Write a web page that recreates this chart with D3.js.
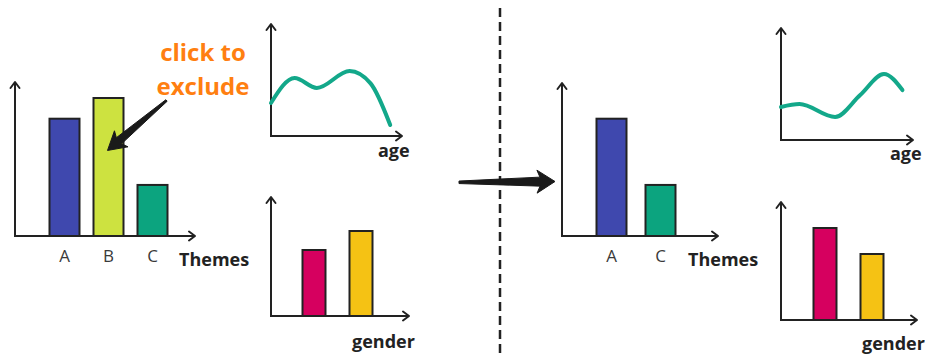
<!DOCTYPE html>
<html>
<head>
<meta charset="utf-8">
<script src="https://cdn.jsdelivr.net/npm/d3@7"></script>
<style>
  html, body { margin: 0; padding: 0; background: #fff; }
  svg { display: block; }
</style>
</head>
<body>
<svg id="chart" width="925" height="356"></svg>
<script>
// ---- Data: theme counts before / after excluding theme B ----
const themes = ["A", "B", "C"];
const themeValues = [85, 100, 37];
const themeColors = ["#3f48ae", "#cde240", "#0ca47f"];

const themesAfter = ["A", "C"];
const themeValuesAfter = [85, 37];
const themeColorsAfter = ["#3f48ae", "#0ca47f"];

// gender breakdown (two groups)
const genders = ["female", "male"];
const genderValues = [66, 85];
const genderValuesAfter = [92, 66];
const genderColors = ["#d6005f", "#f5c214"];

// age distribution curves
const ages = [0, 18, 35, 60, 76, 91];
const ageDensity = [29.5, 51.8, 42.9, 58.0, 47.0, 9.8];
const agesAfter = [0, 14, 41, 60, 78, 92];
const ageDensityAfter = [29.5, 32.1, 20.5, 40.2, 58.9, 44.6];

// ---- Drawing ----
const FONT = "'Open Sans', 'Noto Sans', sans-serif";
const ink = "#222";
const svg = d3.select("#chart");

// L-shaped axes with open arrowheads
function drawAxes(g, ox, oy, tipX, tipY) {
  g.append("path")
    .attr("d", `M${ox},${tipY}V${oy}H${tipX}`)
    .attr("fill", "none").attr("stroke", ink).attr("stroke-width", 2)
    .attr("stroke-linejoin", "miter");
  const heads = [
    `M${ox - 4.5},${tipY + 6}L${ox},${tipY}L${ox + 4.5},${tipY + 6}`,
    `M${tipX - 6},${oy - 4.5}L${tipX},${oy}L${tipX - 6},${oy + 4.5}`
  ];
  g.selectAll(null).data(heads).join("path")
    .attr("d", d => d)
    .attr("fill", "none").attr("stroke", ink).attr("stroke-width", 2)
    .attr("stroke-linecap", "round").attr("stroke-linejoin", "round");
}

function axisTitle(g, x, y, text) {
  g.append("text")
    .attr("x", x).attr("y", y)
    .attr("font-family", FONT).attr("font-weight", 700)
    .attr("font-size", 18).attr("fill", ink)
    .text(text);
}

function barPanel(p) {
  const g = svg.append("g");
  const pad = 1 - p.bw / p.step;
  const x = d3.scaleBand()
    .domain(p.cats)
    .range([p.firstBar, p.firstBar + p.step * (p.cats.length - pad)])
    .paddingInner(pad).paddingOuter(0).align(0);
  const y = d3.scaleLinear().domain([0, 100]).range([p.oy, p.oy - 100 * p.unit]);

  g.selectAll("rect").data(p.vals).join("rect")
    .attr("x", (d, i) => x(p.cats[i]))
    .attr("y", d => y(d))
    .attr("width", x.bandwidth())
    .attr("height", d => y(0) - y(d))
    .attr("fill", (d, i) => p.colors[i])
    .attr("stroke", ink).attr("stroke-width", 2);

  drawAxes(g, p.ox, p.oy, p.tipX, p.tipY);

  if (p.ticks) {
    const ax = g.append("g")
      .attr("transform", `translate(0,${p.oy})`)
      .call(d3.axisBottom(x).tickSize(0).tickPadding(14));
    ax.select(".domain").remove();
    ax.selectAll("text")
      .attr("font-family", FONT).attr("font-size", 17)
      .attr("fill", "#3a3a3a");
  }
  axisTitle(g, p.titleX, p.titleY, p.title);
  return { x, y };
}

function agePanel(p) {
  const g = svg.append("g");
  const x = d3.scaleLinear().domain([0, 100]).range([p.ox, p.tipX]);
  const y = d3.scaleLinear().domain([0, 100]).range([p.oy, p.tipY]);
  drawAxes(g, p.ox, p.oy, p.tipX, p.tipY);
  const line = d3.line()
    .x((d, i) => x(p.ages[i]))
    .y(d => y(d))
    .curve(d3.curveMonotoneX);
  g.append("path")
    .attr("d", line(p.vals))
    .attr("fill", "none").attr("stroke", "#13a88a")
    .attr("stroke-width", 4).attr("stroke-linecap", "round");
  axisTitle(g, p.titleX, p.titleY, "age");
}

// tapered arrow: thin tail widening into a swept-back head
function taperedArrow(tail, tip, o) {
  const dx = tip[0] - tail[0], dy = tip[1] - tail[1];
  const len = Math.hypot(dx, dy);
  const u = [dx / len, dy / len], n = [-u[1], u[0]];
  const at = (base, along, side) => [base[0] + u[0] * along + n[0] * side,
                                     base[1] + u[1] * along + n[1] * side];
  const pts = [
    at(tail, 0, o.tailW / 2),
    at(tip, -o.headLen, o.shaftW / 2),
    at(tip, -o.headLen - o.sweep, o.headW / 2),
    tip,
    at(tip, -o.headLen - o.sweep, -o.headW / 2),
    at(tip, -o.headLen, -o.shaftW / 2),
    at(tail, 0, -o.tailW / 2)
  ];
  svg.append("path")
    .attr("d", d3.line()(pts) + "Z")
    .attr("fill", "#1a1a1a").attr("stroke", "#1a1a1a")
    .attr("stroke-width", 1).attr("stroke-linejoin", "round");
}

// ---- left side: before exclusion ----
const main = barPanel({
  cats: themes, vals: themeValues, colors: themeColors,
  firstBar: 49.5, step: 44, bw: 30, unit: 1.38,
  ox: 15, oy: 236, tipX: 195, tipY: 82,
  ticks: true, title: "Themes", titleX: 179, titleY: 266
});

agePanel({ ages: ages, vals: ageDensity,
  ox: 271, oy: 136, tipX: 402, tipY: 24, titleX: 378, titleY: 157 });

barPanel({
  cats: genders, vals: genderValues, colors: genderColors,
  firstBar: 302.5, step: 47, bw: 23, unit: 1,
  ox: 271, oy: 316, tipX: 409, tipY: 197,
  ticks: false, title: "gender", titleX: 352, titleY: 348
});

// annotation
svg.append("text")
  .attr("font-family", FONT).attr("font-weight", 700)
  .attr("font-size", 24).attr("fill", "#ff7f11")
  .attr("text-anchor", "middle")
  .selectAll("tspan").data(["click to", "exclude"]).join("tspan")
  .attr("x", 203).attr("y", (d, i) => 61 + i * 34)
  .text(d => d);

const bx = main.x("B") + main.x.bandwidth() / 2 - 1;
taperedArrow([166.5, 100.5], [bx, main.y(62)],
  { tailW: 2, shaftW: 8, headLen: 15, sweep: 3, headW: 21 });

// ---- divider and transition arrow ----
svg.append("line")
  .attr("x1", 500).attr("x2", 500).attr("y1", 8).attr("y2", 356)
  .attr("stroke", "#222").attr("stroke-width", 2.5)
  .attr("stroke-dasharray", "9,5");

taperedArrow([459, 182.3], [555, 181.5],
  { tailW: 2.5, shaftW: 9, headLen: 15, sweep: 3, headW: 23 });

// ---- right side: after exclusion ----
barPanel({
  cats: themesAfter, vals: themeValuesAfter, colors: themeColorsAfter,
  firstBar: 596.5, step: 49, bw: 30, unit: 1.38,
  ox: 562, oy: 236, tipX: 718, tipY: 83,
  ticks: true, title: "Themes", titleX: 688, titleY: 266
});

agePanel({ ages: agesAfter, vals: ageDensityAfter,
  ox: 781, oy: 140, tipX: 913, tipY: 28, titleX: 890, titleY: 160 });

barPanel({
  cats: genders, vals: genderValuesAfter, colors: genderColors,
  firstBar: 813.5, step: 47, bw: 23, unit: 1,
  ox: 781, oy: 320, tipX: 917, tipY: 202,
  ticks: false, title: "gender", titleX: 862, titleY: 350
});
</script>
</body>
</html>
